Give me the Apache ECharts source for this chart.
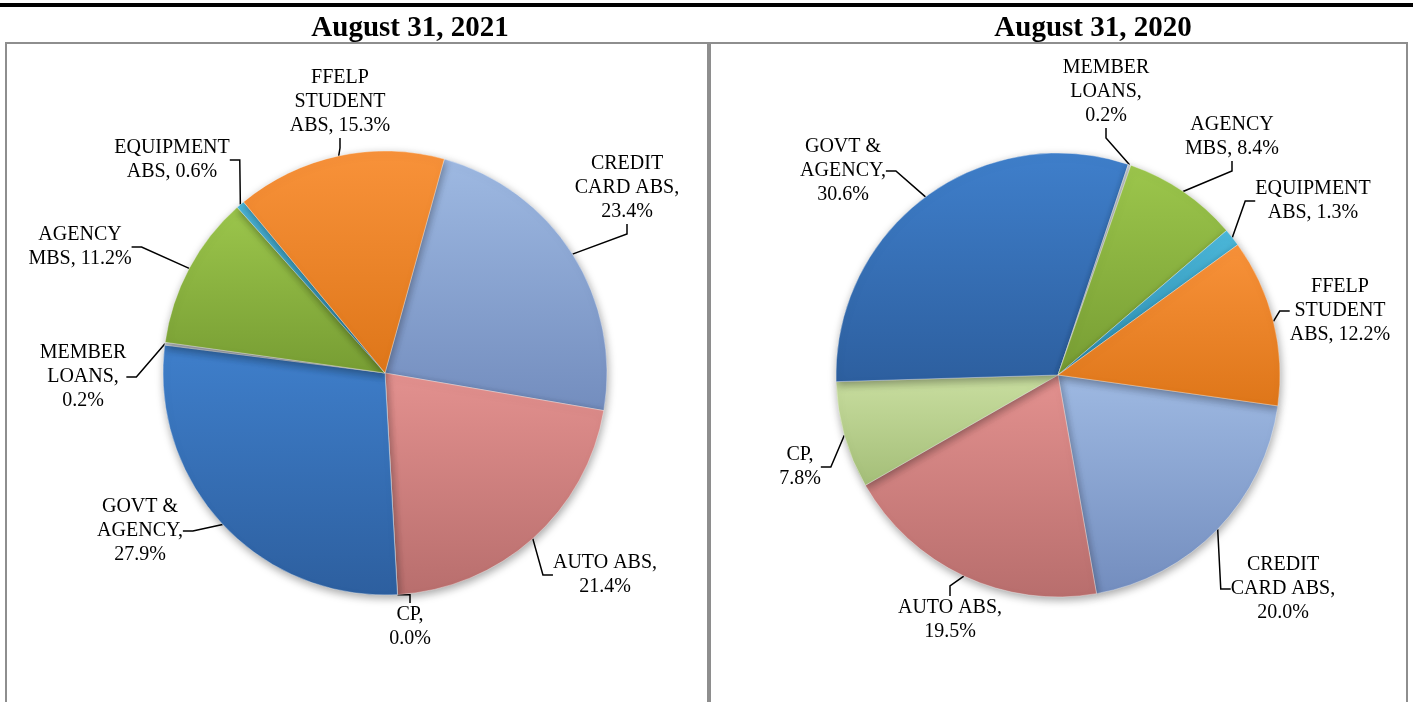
<!DOCTYPE html>
<html>
<head>
<meta charset="utf-8">
<script src="https://cdn.jsdelivr.net/npm/echarts@6/dist/echarts.min.js"></script>
<style>
html,body{margin:0;padding:0;background:#fff;}
#c{width:1413px;height:702px;}
</style>
</head>
<body>
<div id="c"></div>
<script>
// ---- data ----
const categories = ['CREDIT\nCARD ABS', 'AUTO ABS', 'CP', 'GOVT &\nAGENCY', 'MEMBER\nLOANS', 'AGENCY\nMBS', 'EQUIPMENT\nABS', 'FFELP\nSTUDENT\nABS'];
const breakAfterComma = [true, true, true, true, true, false, false, false];
const values2021 = [23.4, 21.4, 0.0, 27.9, 0.2, 11.2, 0.6, 15.3];
const values2020 = [20.0, 19.5, 7.8, 30.6, 0.2, 8.4, 1.3, 12.2];
const titles = ['August 31, 2021', 'August 31, 2020'];

// ---- styles ----
const colorsTop = ['#9EB9E2', '#E3918F', '#C9DEA0', '#3F7FCB', '#C8CDD3', '#9CC64C', '#4CB8DA', '#F8923A'];
const colorsBot = ['#738DBE', '#B86E6D', '#A4BE78', '#2D5F9F', '#9AA0A8', '#779D33', '#2C8BAE', '#DE7619'];
// label anchor positions (text block centers) — layout only
const labelPos2021 = [[627,188],[605,575],[410,627],[140,531],[83,377],[80,247],[172,160],[340,102]];
const labelPos2020 = [[1283,589],[950,620],[800,467],[843,171],[1106,92],[1232,137],[1313,201],[1340,311]];

const chart = echarts.init(document.getElementById('c'), null, {renderer: 'canvas'});
const serif = '"Liberation Serif", "Times New Roman", serif';

function makeData(vals) {
  return categories.map((n, i) => ({
    name: n,
    value: vals[i],
    itemStyle: {
      color: new echarts.graphic.LinearGradient(0, 0, 0, 1, [
        {offset: 0, color: colorsTop[i]},
        {offset: 1, color: colorsBot[i]}
      ])
    }
  }));
}

function fmt(p) {
  const sep = breakAfterComma[p.dataIndex] ? ',\n' : ', ';
  return p.name + sep + p.value.toFixed(1) + '%';
}

function makeSeries(vals, center, startAngle, pos) {
  return {
    type: 'pie',
    center: center,
    radius: 222,
    startAngle: startAngle,
    clockwise: true,
    avoidLabelOverlap: false,
    stillShowZeroSum: true,
    animation: false,
    data: makeData(vals),
    itemStyle: {
      borderColor: 'rgba(255,255,255,0.35)',
      borderWidth: 1,
      shadowBlur: 8,
      shadowColor: 'rgba(0,0,0,0.35)',
      shadowOffsetX: 1,
      shadowOffsetY: 3
    },
    label: {
      show: true,
      position: 'outside',
      formatter: fmt,
      color: '#000',
      fontFamily: serif,
      fontSize: 20,
      lineHeight: 24,
      align: 'center'
    },
    labelLine: {
      show: true,
      length: 10,
      length2: 10,
      lineStyle: {color: '#000', width: 1.5}
    },
    labelLayout: function (params) {
      const p = pos[params.dataIndex];
      return {x: p[0], y: p[1], align: 'center', verticalAlign: 'middle', hideOverlap: false};
    },
    emphasis: {disabled: true}
  };
}

chart.setOption({
  backgroundColor: '#fff',
  title: [
    {text: titles[0], left: 405, top: 9, textAlign: 'center',
     textStyle: {fontFamily: serif, fontWeight: 'bold', fontSize: 29, color: '#000'}},
    {text: titles[1], left: 1088, top: 9, textAlign: 'center',
     textStyle: {fontFamily: serif, fontWeight: 'bold', fontSize: 29, color: '#000'}}
  ],
  graphic: [
    {type: 'rect', shape: {x: 0, y: 3, width: 1413, height: 4}, style: {fill: '#000'}, z: 10},
    {type: 'rect', shape: {x: 6, y: 43, width: 702, height: 700}, style: {fill: 'none', stroke: '#8E8E8E', lineWidth: 2}, z: 0},
    {type: 'rect', shape: {x: 710, y: 43, width: 697, height: 700}, style: {fill: 'none', stroke: '#8E8E8E', lineWidth: 2}, z: 0}
  ],
  series: [
    makeSeries(values2021, [385, 373], 74.5, labelPos2021),
    makeSeries(values2020, [1058, 375], -8, labelPos2020)
  ]
});
</script>
</body>
</html>
